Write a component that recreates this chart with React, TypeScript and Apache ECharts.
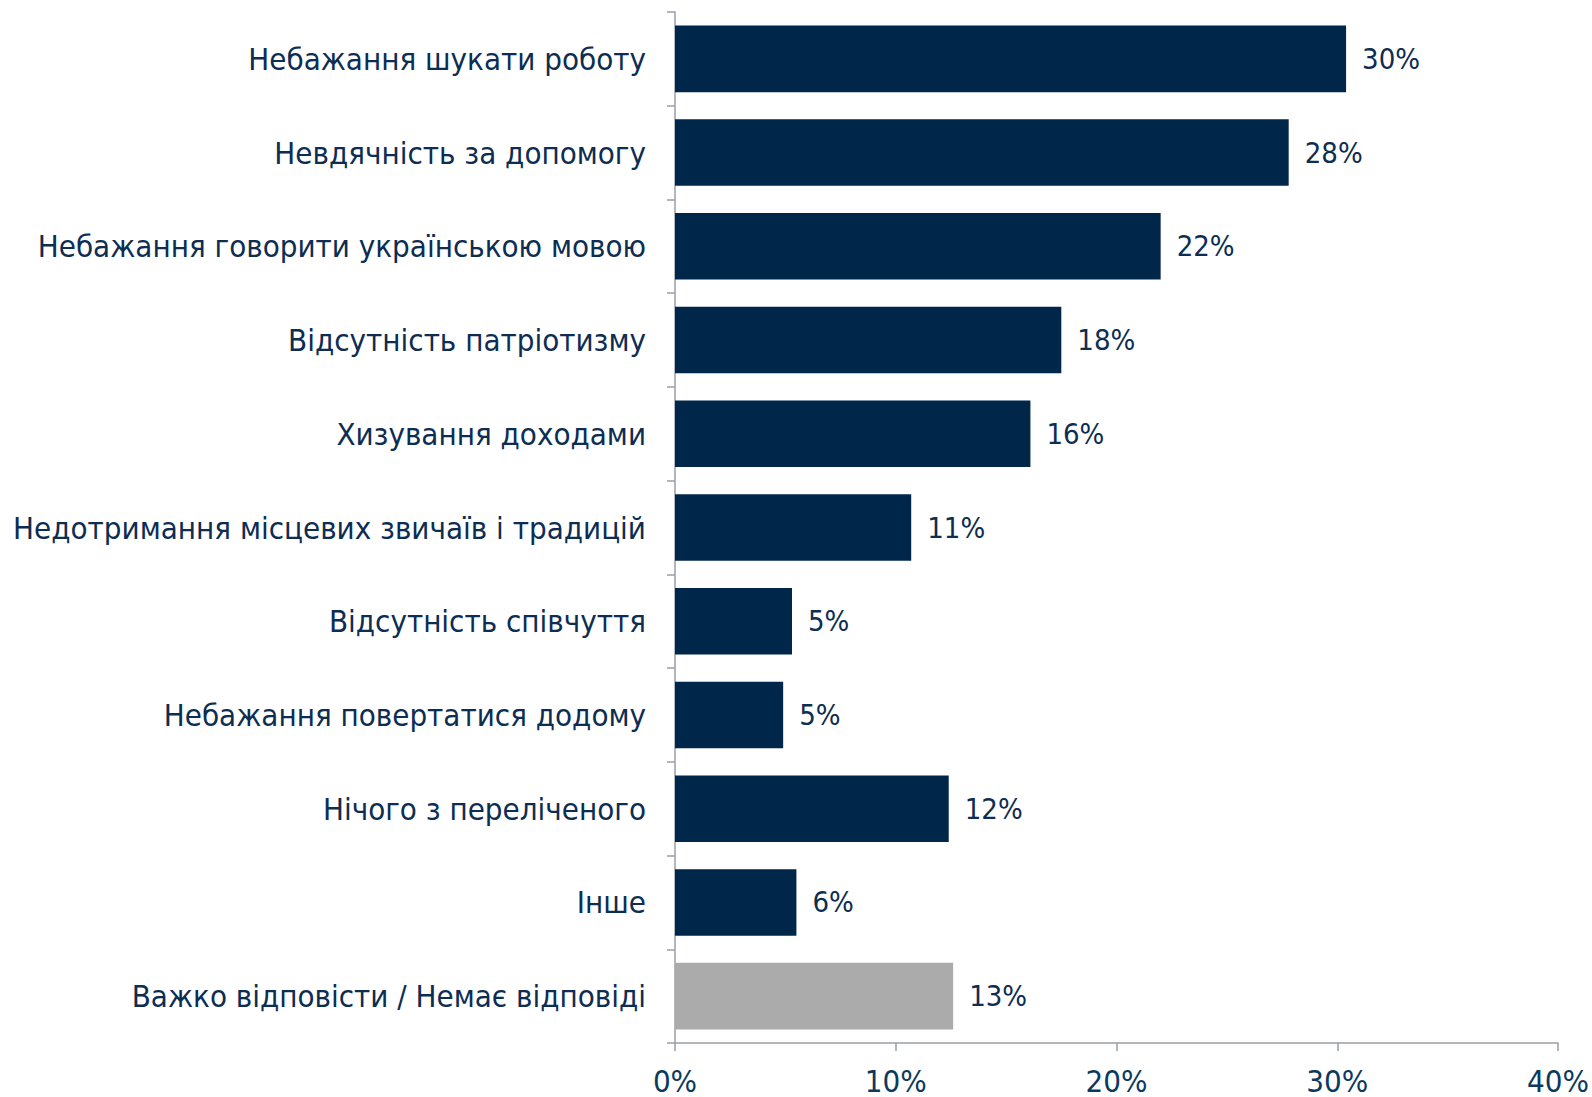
import React, { useEffect, useRef } from "react";
import * as echarts from "echarts";

const categories = [
  "Небажання шукати роботу",
  "Невдячність за допомогу",
  "Небажання говорити українською мовою",
  "Відсутність патріотизму",
  "Хизування доходами",
  "Недотримання місцевих звичаїв і традицій",
  "Відсутність співчуття",
  "Небажання повертатися додому",
  "Нічого з переліченого",
  "Інше",
  "Важко відповісти / Немає відповіді",
];
const values = [30.4, 27.8, 22.0, 17.5, 16.1, 10.7, 5.3, 4.9, 12.4, 5.5, 12.6];
const labels = ["30%", "28%", "22%", "18%", "16%", "11%", "5%", "5%", "12%", "6%", "13%"];
const grayIndex = 10;

const NAVY = "#00264a";
const GRAY = "#ababab";
const TEXT = "#0d2d52";
const condensed = "'DejaVu Sans Condensed', 'Liberation Sans Narrow', 'Roboto Condensed', 'DejaVu Sans', sans-serif";

export default function App() {
  const ref = useRef<HTMLDivElement>(null);
  useEffect(() => {
    document.body.style.margin = "0";
    const chart = echarts.init(ref.current!, null, { renderer: "svg" });
    chart.setOption({
      animation: false,
      grid: { left: 675, right: 27, top: 12, bottom: 54, containLabel: false },
      xAxis: {
        type: "value",
        min: 0,
        max: 40,
        interval: 10,
        splitLine: { show: false },
        axisLine: { show: true, lineStyle: { color: "#9a9ea8", width: 1.5 } },
        axisTick: { show: true, length: 8, lineStyle: { color: "#9a9ea8", width: 1.5 } },
        axisLabel: {
          formatter: (v: number) => v + "%",
          color: "#0b3a5e",
          fontSize: 31,
          fontFamily: condensed,
          margin: 22,
        },
      },
      yAxis: {
        type: "category",
        inverse: true,
        data: categories,
        axisLine: { show: true, lineStyle: { color: "#9a9ea8", width: 1.5 } },
        axisTick: { show: true, length: 8, lineStyle: { color: "#9a9ea8", width: 1.5 } },
        axisLabel: {
          color: TEXT,
          fontSize: 31,
          fontFamily: condensed,
          margin: 29,
        },
      },
      series: [
        {
          type: "bar",
          barCategoryGap: "29%",
          data: values.map((v, i) => ({
            value: v,
            itemStyle: { color: i === grayIndex ? GRAY : NAVY },
          })),
          label: {
            show: true,
            position: "right",
            distance: 16,
            formatter: (p: any) => labels[p.dataIndex],
            color: TEXT,
            fontSize: 29,
            fontFamily: condensed,
          },
        },
      ],
    });
    return () => chart.dispose();
  }, []);
  return <div ref={ref} style={{ width: 1592, height: 1097 }} />;
}
